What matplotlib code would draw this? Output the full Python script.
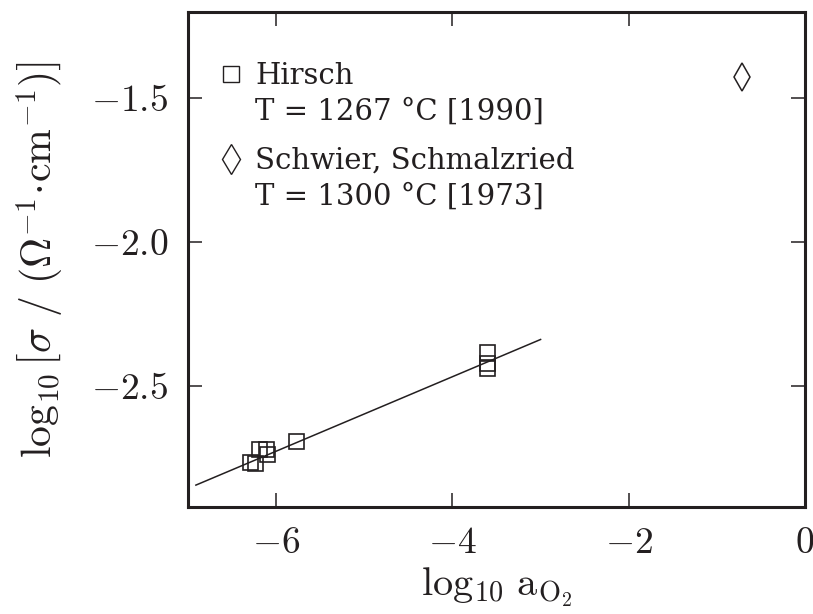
import matplotlib
matplotlib.use('Agg')
import matplotlib.pyplot as plt

# Hirsch, T = 1267 C
hirsch_x = [-6.30, -6.24, -6.19, -6.12, -6.10, -5.77, -3.61, -3.61, -3.61]
hirsch_y = [-2.764, -2.766, -2.72, -2.717, -2.737, -2.69, -2.382, -2.419, -2.436]

# Schwier, Schmalzried, T = 1300 C
schwier_x = [-0.71]
schwier_y = [-1.427]

# fit line
fit_x = [-6.91, -3.0]
fit_y = [-2.844, -2.338]

xticks = [-6, -4, -2, 0]
yticks = [-2.5, -2.0, -1.5]

ink = '#231f20'

plt.rcParams['font.family'] = ['cmr10', 'DejaVu Serif', 'DejaVu Sans']
plt.rcParams['mathtext.fontset'] = 'cm'
plt.rcParams['axes.formatter.use_mathtext'] = True

fig = plt.figure(figsize=(8.13, 6.14), dpi=100)
ax = fig.add_axes([0.2312, 0.1743, 0.759, 0.8062])

ax.plot(fit_x, fit_y, color=ink, lw=1.1)
ax.plot(hirsch_x, hirsch_y, ls='none', marker='s', markersize=10.8,
        markerfacecolor='none', markeredgecolor=ink, markeredgewidth=1.2)
ax.plot(schwier_x, schwier_y, ls='none', marker='d', markersize=13.8,
        markerfacecolor='none', markeredgecolor=ink, markeredgewidth=1.1)

ax.set_xlim(-7, 0)
ax.set_ylim(-2.92, -1.2)
ax.set_xticks(xticks)
ax.set_yticks(yticks)
ax.set_yticklabels(['$-2.5$', '$-2.0$', '$-1.5$'])
ax.set_xticklabels(['$-6$', '$-4$', '$-2$', '$0$'])
ax.tick_params(direction='in', length=10, width=1.1, labelsize=27, pad=14,
               top=True, right=True, colors=ink)
for s in ax.spines.values():
    s.set_linewidth(2.2)
    s.set_color(ink)

ax.set_xlabel(r'$\log_{10}\,\mathrm{a}_{\mathrm{O}_2}$', fontsize=29, color=ink, labelpad=4)
ax.set_ylabel(r'$\log_{10}\left[\sigma\ /\ (\Omega^{-1}\!\cdot\!\mathrm{cm}^{-1})\right]$',
              fontsize=30, color=ink, labelpad=18)

# legend drawn by hand
ax.plot([0.0697], [0.8747], transform=ax.transAxes, ls='none', marker='s', markersize=11.5,
        markerfacecolor='none', markeredgecolor=ink, markeredgewidth=1.0, clip_on=False)
ax.plot([0.0705], [0.703], transform=ax.transAxes, ls='none', marker='d', markersize=14.8,
        markerfacecolor='none', markeredgecolor=ink, markeredgewidth=1.0, clip_on=False)

tx = 0.1086
fs = 21
lg = dict(transform=ax.transAxes, fontsize=fs, color=ink, va='baseline',
          family=['DejaVu Serif'])
ax.text(tx, 0.8545, 'Hirsch', **lg)
ax.text(tx, 0.7818, 'T = 1267 °C [1990]', **lg)
ax.text(tx, 0.6828, 'Schwier, Schmalzried', **lg)
ax.text(tx, 0.6101, 'T = 1300 °C [1973]', **lg)

fig.savefig('out.png', dpi=100)
